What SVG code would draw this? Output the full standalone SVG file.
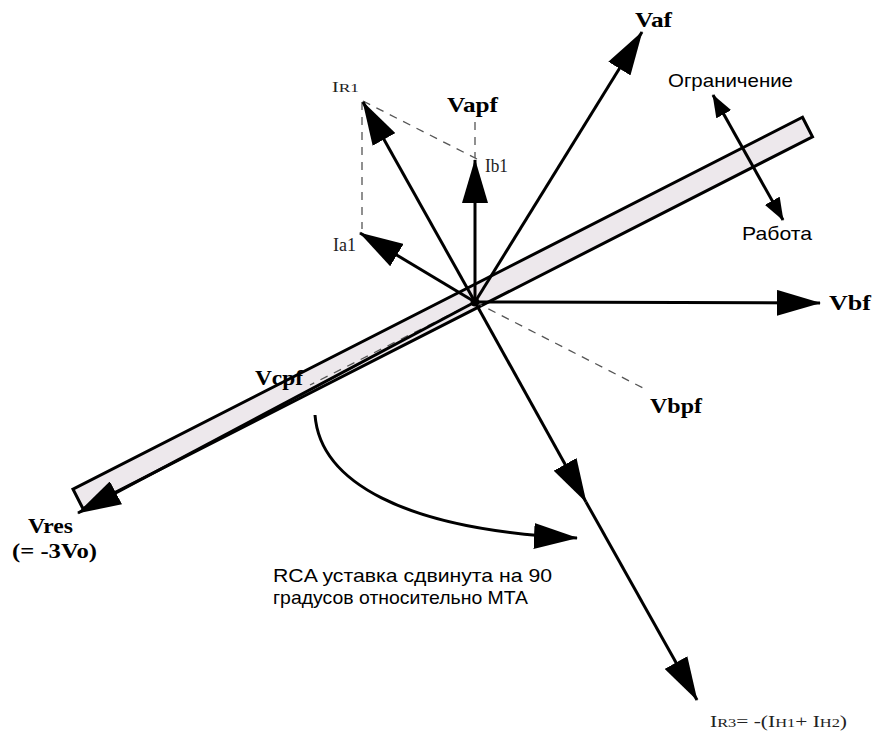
<svg xmlns="http://www.w3.org/2000/svg" width="875" height="733" viewBox="0 0 875 733">
<style>
.v{stroke:#000;stroke-width:3;fill:none}
.d{stroke:#555;stroke-width:1.3;stroke-dasharray:8,7;fill:none}
.b{font-family:"Liberation Serif",serif;font-weight:bold;font-size:21px;fill:#000}
.s{font-family:"Liberation Serif",serif;font-size:18px;fill:#222}
.a{font-family:"Liberation Sans",Arial,sans-serif;font-size:19px;fill:#000}
</style>
<defs>
<marker id="big" markerUnits="userSpaceOnUse" markerWidth="44" markerHeight="26" refX="43" refY="13" orient="auto" viewBox="0 0 44 26">
<path d="M0,0 L44,13 L0,26 z" fill="#000"/>
</marker>
<marker id="sm" markerUnits="userSpaceOnUse" markerWidth="23" markerHeight="17" refX="22" refY="8.5" orient="auto-start-reverse" viewBox="0 0 23 17">
<path d="M0,0 L23,8.5 L0,17 z" fill="#000"/>
</marker>
</defs>
<rect width="875" height="733" fill="#fff"/>
<g id="bar">
<polygon points="802.5,117.2 812.5,136.8 83,508.8 73,489.2" fill="#ede8ec" stroke="#000" stroke-width="3" stroke-linejoin="miter"/>
</g>
<g id="connectors">
<line class="d" x1="475" y1="302" x2="310" y2="385"/>
<line class="d" x1="475" y1="302" x2="645" y2="389"/>
<line class="d" x1="475" y1="122" x2="475" y2="158"/>
<line class="d" x1="362" y1="102" x2="362" y2="229"/>
<line class="d" x1="363" y1="101" x2="477" y2="159"/>
<line class="v" x1="475" y1="302" x2="642" y2="32" marker-end="url(#big)"/>
<line class="v" x1="475" y1="302" x2="475" y2="160" marker-end="url(#big)"/>
<line class="v" x1="475" y1="302" x2="363" y2="102" marker-end="url(#big)"/>
<line class="v" x1="475" y1="302" x2="360" y2="233" marker-end="url(#big)"/>
<line class="v" x1="475" y1="302" x2="820" y2="303" marker-end="url(#big)"/>
<line class="v" x1="475" y1="302" x2="78" y2="513" marker-end="url(#big)"/>
<line class="v" x1="475" y1="302" x2="586" y2="502" marker-end="url(#big)"/>
<line class="v" x1="586" y1="502" x2="697" y2="700" marker-end="url(#big)"/>
<line class="v" stroke-width="2.5" x1="713" y1="95" x2="783" y2="220" marker-start="url(#sm)" marker-end="url(#sm)"/>
<path class="v" stroke-width="2.5" d="M315,415 C320,480 400,530 577,538" marker-end="url(#big)"/>
<circle cx="475" cy="302" r="4.5" fill="#000"/>
</g>
<g id="labels">
<text class="b" x="635" y="27" textLength="37" lengthAdjust="spacingAndGlyphs">Vaf</text>
<text class="b" x="447" y="112" textLength="51" lengthAdjust="spacingAndGlyphs">Vapf</text>
<text class="b" x="829" y="310" textLength="42" lengthAdjust="spacingAndGlyphs">Vbf</text>
<text class="b" x="650" y="413" textLength="52" lengthAdjust="spacingAndGlyphs">Vbpf</text>
<text class="b" x="255" y="385" textLength="48" lengthAdjust="spacingAndGlyphs">Vcpf</text>
<text class="b" x="28" y="533" textLength="45" lengthAdjust="spacingAndGlyphs">Vres</text>
<text class="b" x="12" y="558" textLength="85" lengthAdjust="spacingAndGlyphs">(= -3Vo)</text>
<text class="s" x="332" y="92" textLength="27" lengthAdjust="spacingAndGlyphs"><tspan font-size="15">I</tspan><tspan font-size="13">R1</tspan></text>
<text class="s" x="485" y="172" textLength="23" lengthAdjust="spacingAndGlyphs">Ib1</text>
<text class="s" x="333" y="251" textLength="23" lengthAdjust="spacingAndGlyphs">Ia1</text>
<text class="s" x="710" y="727" textLength="137" lengthAdjust="spacingAndGlyphs"><tspan font-size="17">I</tspan><tspan font-size="13">R3</tspan><tspan font-size="17">= -(I</tspan><tspan font-size="13">H1</tspan><tspan font-size="17">+ I</tspan><tspan font-size="13">H2</tspan><tspan font-size="17">)</tspan></text>
<text class="a" x="668" y="87" textLength="125" lengthAdjust="spacingAndGlyphs">Ограничение</text>
<text class="a" x="742" y="240" textLength="70" lengthAdjust="spacingAndGlyphs">Работа</text>
<text class="a" x="273" y="582" textLength="279" lengthAdjust="spacingAndGlyphs">RCA уставка сдвинута на 90</text>
<text class="a" x="273" y="604" textLength="255" lengthAdjust="spacingAndGlyphs">градусов относительно МТА</text>
</g>
</svg>
